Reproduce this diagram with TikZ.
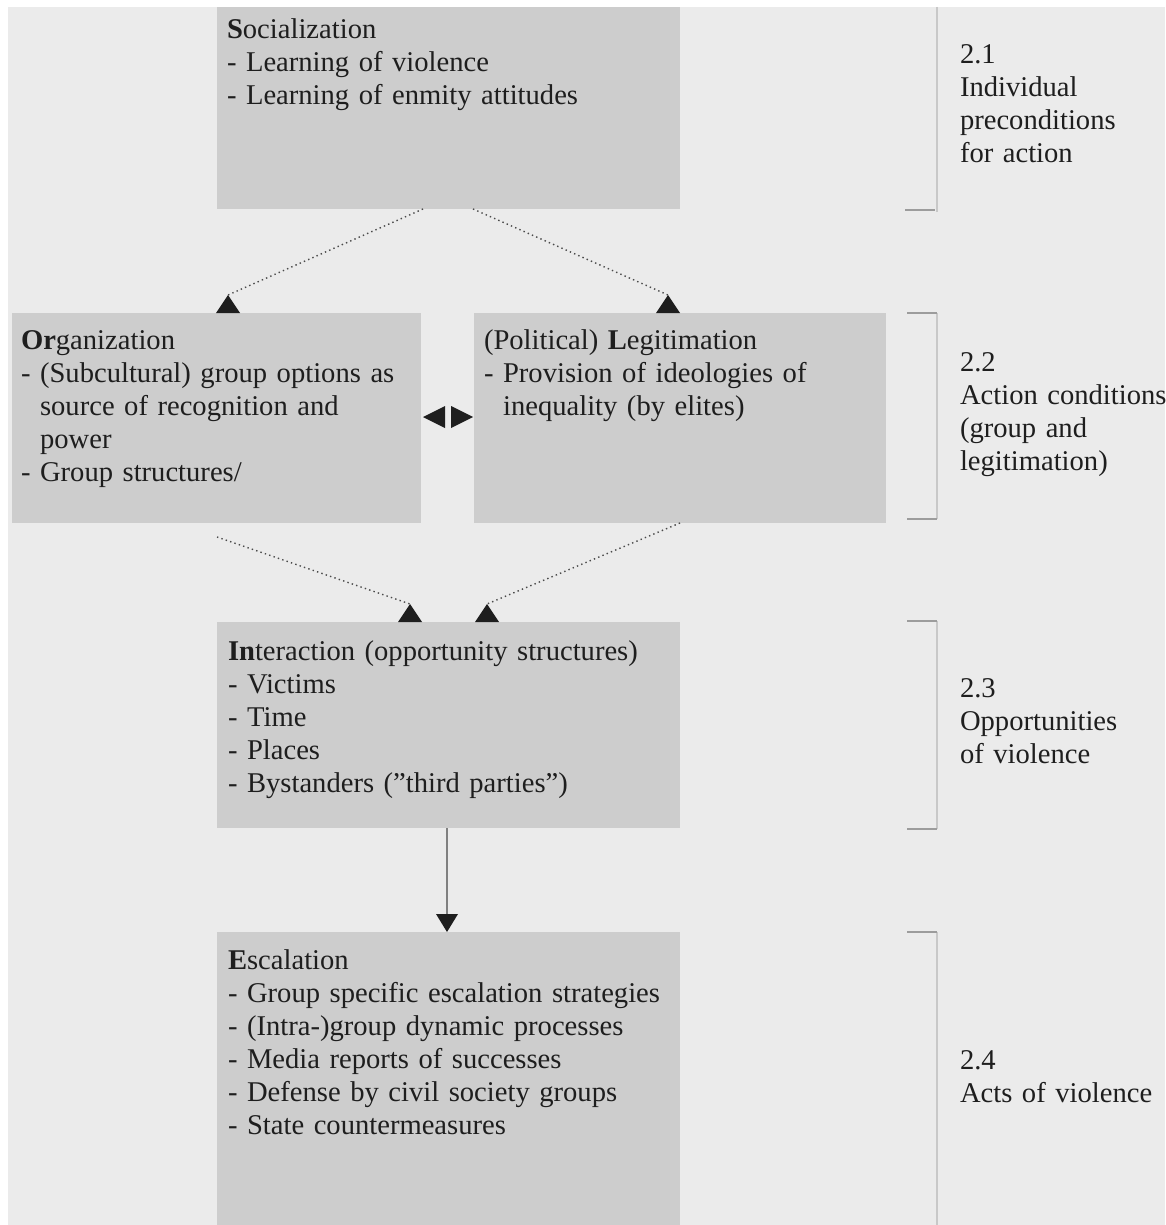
\documentclass[tikz,border=0pt]{standalone}
\usepackage{fontspec}
\setmainfont{Liberation Serif}
\usetikzlibrary{arrows.meta}
\definecolor{bg}{HTML}{EBEBEB}
\definecolor{boxc}{HTML}{CDCDCD}
\definecolor{txt}{HTML}{1E1E1E}
\definecolor{brkv}{HTML}{C8C8C8}
\definecolor{brkt}{HTML}{9C9C9C}
\definecolor{arr}{HTML}{4A4A4A}
\begin{document}
\begin{tikzpicture}[x=1pt,y=-1pt,
  box/.style={fill=boxc, draw=none, inner sep=0pt, outer sep=0pt, anchor=north west},
  body/.style={anchor=base west, inner sep=0pt, outer sep=0pt, text width=#1, align=left,
    font=\fontsize{28.6}{33}\selectfont, text=txt},
  dotline/.style={draw=arr, line width=1.4pt, dash pattern=on 1.4pt off 3.2pt},
  solidline/.style={draw=black!50, line width=1.5pt},
  vline/.style={draw=brkv, line width=1.5pt},
  tick/.style={draw=brkt, line width=1.5pt},
  tip/.style={fill=txt, draw=none}]
\useasboundingbox (0,0) rectangle (1165,1225);
\fill[white] (0,0) rectangle (1165,1225);
\fill[bg] (8,7) rectangle (1165,1225);

% boxes
\node[box, minimum width=463pt, minimum height=202pt] (soc) at (217,7) {};
\node[box, minimum width=409pt, minimum height=210pt] (org) at (12,313) {};
\node[box, minimum width=412pt, minimum height=210pt] (leg) at (474,313) {};
\node[box, minimum width=463pt, minimum height=206pt] (int) at (217,622) {};
\node[box, minimum width=463pt, minimum height=293pt] (esc) at (217,932) {};

% box texts
\node[body=450pt] (soct) at (227,39) {\textbf{S}ocialization\\- Learning of violence\\- Learning of enmity attitudes};
\node[body=400pt] (orgt) at (21,349) {\textbf{Or}ganization\\- (Subcultural) group options as\\\phantom{-}\ source of recognition and\\\phantom{-}\ power\\- Group structures/};
\node[body=400pt] (legt) at (484,349) {(Political) \textbf{L}egitimation\\- Provision of ideologies of\\\phantom{-}\ inequality (by elites)};
\node[body=450pt] (intt) at (228,660) {\textbf{In}teraction (opportunity structures)\\- Victims\\- Time\\- Places\\- Bystanders ("third parties")};
\node[body=450pt] (esct) at (228,969) {\textbf{E}scalation\\- Group specific escalation strategies\\- (Intra-)group dynamic processes\\- Media reports of successes\\- Defense by civil society groups\\- State countermeasures};

% side labels
\node[body=260pt] (l1) at (960,64) {2.1\\Individual\\preconditions\\for action};
\node[body=260pt] (l2) at (960,371) {2.2\\Action conditions\\(group and\\legitimation)};
\node[body=260pt] (l3) at (960,697) {2.3\\Opportunities\\of violence};
\node[body=260pt] (l4) at (960,1069) {2.4\\Acts of violence};

% brackets
\draw[vline] (937,7) -- (937,212);
\draw[tick] (905,210) -- (935,210);
\draw[vline] (937,313) -- (937,519);
\draw[tick] (907,313) -- (937,313);
\draw[tick] (907,519) -- (937,519);
\draw[vline] (937,621) -- (937,829);
\draw[tick] (907,621) -- (937,621);
\draw[tick] (907,829) -- (937,829);
\draw[vline] (937,932) -- (937,1225);
\draw[tick] (907,932) -- (937,932);

% connector end points
\coordinate (s1) at ([xshift=206pt]soc.south west);
\coordinate (s2) at ([xshift=256pt]soc.south west);
\coordinate (a1) at ([xshift=216pt,yshift=18pt]org.north west);
\coordinate (a2) at ([xshift=194pt,yshift=18pt]leg.north west);
\coordinate (o1) at ([xshift=205pt,yshift=-14pt]org.south west);
\coordinate (g1) at ([xshift=206pt]leg.south west);
\coordinate (b1) at ([xshift=193pt,yshift=18pt]int.north west);
\coordinate (b2) at ([xshift=270pt,yshift=18pt]int.north west);
\coordinate (i1) at ([xshift=230pt]int.south west);
\coordinate (e1) at ([xshift=230pt,yshift=18pt]esc.north west);

% dotted connectors with upright heads
\draw[dotline] (s1) -- (a1);
\fill[tip] (a1) -- ++(12,18) -- ++(-24,0) -- cycle;
\draw[dotline] (s2) -- (a2);
\fill[tip] (a2) -- ++(12,18) -- ++(-24,0) -- cycle;
\draw[dotline] (o1) -- (b1);
\fill[tip] (b1) -- ++(12,18) -- ++(-24,0) -- cycle;
\draw[dotline] (g1) -- (b2);
\fill[tip] (b2) -- ++(12,18) -- ++(-24,0) -- cycle;

% solid connector
\draw[solidline] (i1) -- (e1);
\fill[tip] (e1) -- ++(11,0) -- ++(-11,18) -- ++(-11,-18) -- cycle;

% double head between organization and legitimation
\coordinate (d1) at ([yshift=-104pt]org.north east);
\coordinate (d2) at ([yshift=-104pt]leg.north west);
\fill[tip] ([xshift=2pt]d1) -- ++(22,-11) -- ++(0,22) -- cycle;
\fill[tip] ([xshift=-1pt]d2) -- ++(-22,-11) -- ++(0,22) -- cycle;
\end{tikzpicture}
\end{document}
